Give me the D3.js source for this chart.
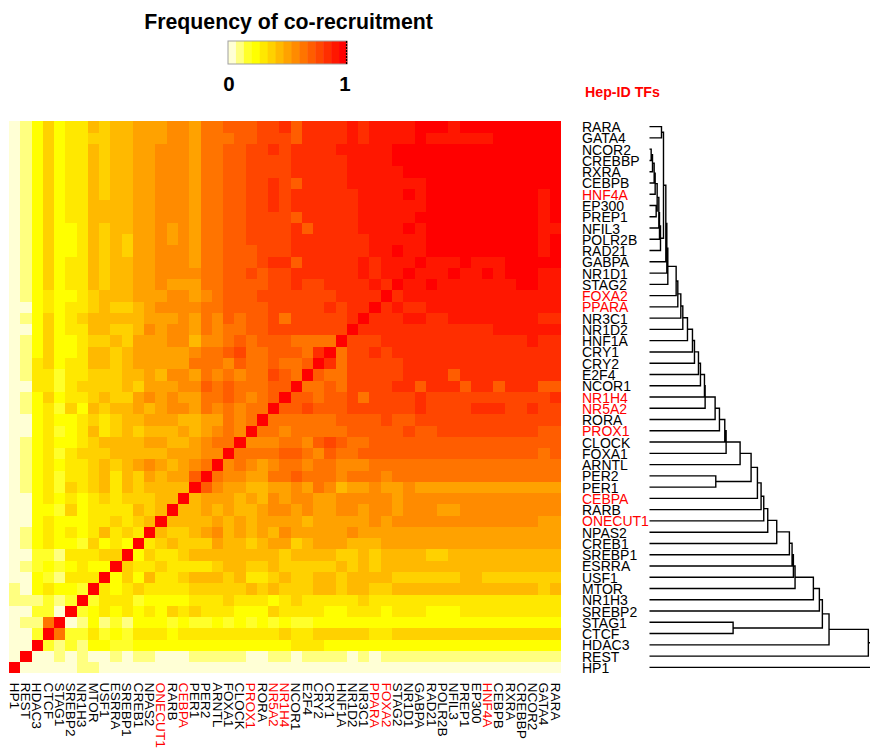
<!DOCTYPE html>
<html><head><meta charset="utf-8">
<script src="https://cdn.jsdelivr.net/npm/d3@7/dist/d3.min.js"></script>
<style>html,body{margin:0;padding:0;background:#fff}svg{display:block}text{font-family:"Liberation Sans",Arial,sans-serif}</style>
</head><body><svg id="c" width="870" height="749"></svg>
<script>
// Leaves, bottom row / left column first
const tfNames = ["HP1","REST","HDAC3","CTCF","STAG1","SREBP2","NR1H3","MTOR","USF1","ESRRA","SREBP1","CREB1","NPAS2","ONECUT1","RARB","CEBPA","PER1","PER2","ARNTL","FOXA1","CLOCK","PROX1","RORA","NR5A2","NR1H4","NCOR1","E2F4","CRY2","CRY1","HNF1A","NR1D2","NR3C1","PPARA","FOXA2","STAG2","NR1D1","GABPA","RAD21","POLR2B","NFIL3","PREP1","EP300","HNF4A","CEBPB","RXRA","CREBBP","NCOR2","GATA4","RARA"];
const hepIdTFs = ["ONECUT1","CEBPA","PROX1","NR5A2","NR1H4","PPARA","FOXA2","HNF4A"];
// 15-step palette, low to high
const heatColors = ["#ffffd5","#ffff80","#ffff2a","#ffff00","#ffe800","#ffd100","#ffb900","#ffa200","#ff8b00","#ff7400","#ff5d00","#ff4600","#ff2e00","#ff1700","#ff0000"];
// Symmetric matrix, frequency level per cell.
// One entry per row r; each run "L@k" = level L (base 15) up to column k, starting at column r+1.
const upperLevels = [
"0@5 1@7 0@48",
"0@3 1@4 0@5 1@6 0@8 1@9 0@10 1@12 0@15 1@20 0@22 1@24 0@25 1@29 0@30 1@31 0@32 1@48",
"2@3 1@4 2@5 1@6 3@8 2@10 3@24 4@27 3@48",
"9@4 2@6 4@7 2@8 3@9 2@10 4@13 3@14 4@23 5@24 4@26 5@31 4@33 5@48",
"0@5 1@6 3@7 1@8 2@9 1@10 3@13 2@14 3@15 2@17 3@18 2@19 3@20 2@21 3@22 2@23 3@24 2@26 3@48",
"2@6 3@7 4@8 3@9 4@10 3@11 4@12 3@13 5@14 4@15 5@16 4@19 3@22 5@23 4@27 3@29 4@32 3@33 4@36 3@39 4@48",
"2@7 4@10 2@11 3@15 4@18 5@19 4@22 3@23 4@24 5@25 4@30 5@31 4@48",
"4@8 3@9 4@10 5@11 4@15 5@20 6@21 5@22 6@23 5@26 6@28 5@29 6@31 5@33 6@46 5@47 6@48",
"3@9 5@10 3@11 6@12 4@14 5@15 6@18 5@19 6@20 4@22 5@23 6@24 5@26 6@28 5@29 6@33 5@39 6@41 5@48",
"5@10 4@12 5@13 4@17 5@18 6@20 5@22 6@23 5@28 6@29 5@30 6@31 5@32 6@48",
"3@11 5@12 4@14 5@15 6@23 5@24 6@28 5@30 6@31 5@32 6@36 5@38 6@48",
"4@12 5@13 6@14 5@17 7@18 6@20 5@21 6@22 7@24 5@25 6@26 7@29 6@32 7@48",
"6@13 5@15 6@16 7@17 8@18 6@19 7@20 6@21 7@22 6@23 8@24 7@29 8@30 7@48",
"6@17 7@18 6@19 7@20 6@21 7@25 6@26 7@31 8@32 7@33 8@46 7@48",
"6@16 7@17 6@18 7@19 6@21 7@22 8@24 7@25 8@26 7@28 8@30 7@31 8@33 7@34 8@37 7@39 8@48",
"6@16 7@19 6@20 7@21 6@22 8@23 7@24 8@26 7@28 8@33 7@34 8@48",
"a@17 8@18 7@20 6@22 7@24 8@25 7@26 9@27 8@28 6@29 7@31 8@32 7@34 8@35 7@48",
"9@18 8@20 7@22 9@24 a@25 9@28 8@29 9@32 8@33 9@48",
"8@19 9@20 8@21 7@22 8@23 9@25 8@26 9@28 8@31 9@48",
"9@23 a@25 9@26 8@27 a@28 9@30 a@46 9@47 a@48",
"8@23 9@25 8@26 a@27 b@28 a@29 9@31 a@48",
"9@23 8@24 9@29 a@34 b@35 a@37 b@46 a@48",
"9@28 a@32 b@33 a@35 b@48",
"a@25 b@26 a@29 b@35 c@36 b@40 c@43 b@45 c@46 b@48",
"a@26 9@27 a@29 b@30 9@31 b@35 c@36 b@47 c@48",
"9@27 a@28 9@29 b@33 c@35 a@36 c@39 a@40 c@42 a@43 c@46 a@48",
"a@27 9@29 b@34 c@38 a@39 c@48",
"c@28 9@29 b@34 c@48",
"9@29 b@31 c@32 b@33 c@48",
"b@32 c@45 d@46 c@48",
"c@42 d@48",
"c@34 d@36 c@38 d@46 c@48",
"c@33 d@34 c@36 d@48",
"c@34 d@48",
"d@36 e@37 d@44 e@46 d@48",
"d@38 e@39 d@41 e@42 d@43 e@46 d@48",
"d@39 e@40 d@43 e@48",
"e@46 d@47 e@48",
"e@46 d@47 e@48",
"e@46 d@48",
"e@46 d@47 e@48",
"e@46 d@47 e@48",
"e@46 d@47 e@48",
"e@48","e@48","e@48","e@48","e@48",""
];
// Dendrogram merges in order: child, child, height. "#n" refers to the n-th merge.
const merges = [
["NCOR2","CREBBP",5],["#0","RXRA",9],["#1","CEBPB",14],["#2","HNF4A",17],["EP300","PREP1",20],["#3","#4",23],["#5","NFIL3",28],["#6","POLR2B",30],["#7","RAD21",33],
["RARA","GATA4",36],["#9","#8",42],["#10","GABPA",49],["#11","NR1D1",52],["#12","STAG2",55],["#13","FOXA2",80],["#14","PPARA",85],["#15","NR3C1",94],["#16","NR1D2",100],
["#17","HNF1A",114],["#18","CRY1",129],["#19","CRY2",135],["#20","E2F4",147],["#21","NCOR1",153],["#22","NR1H4",165],["#23","NR5A2",167],["#24","RORA",197],["#25","PROX1",210],
["#26","CLOCK",226],["#27","FOXA1",230],["#28","ARNTL",272],["PER2","PER1",199],["#29","#30",305],["#31","CEBPA",324],["#32","RARB",335],["#33","ONECUT1",343],["#34","NPAS2",355],
["#35","CREB1",382],["#36","SREBP1",420],["#37","ESRRA",428],["#38","USF1",432],["#39","MTOR",437],["#40","NR1H3",492],["#41","SREBP2",510],["STAG1","CTCF",251],["#42","#43",519],
["#44","HDAC3",539],["#45","REST",657],["#46","HP1",720]
];
const titleText = "Frequency of co-recruitment";
const legendTicks = [0,1];

const svg = d3.select("#c");
const x = d3.scaleBand().domain(tfNames).range([9,561]);
const y = d3.scaleBand().domain(tfNames).range([673,121]);
const labelColor = d => hepIdTFs.includes(d) ? "#ff0000" : "#000";

// cells
const cells = [];
upperLevels.forEach((row,r)=>{
  cells.push({c:r,r:r,l:14});
  let col=r+1;
  row.split(" ").filter(Boolean).forEach(run=>{
    const [L,end]=run.split("@");
    for(;col<=+end;col++){
      const l=parseInt(L,15);
      cells.push({c:col,r:r,l});
      cells.push({c:r,r:col,l});
    }
  });
});
svg.append("g").selectAll("rect").data(cells).join("rect")
  .attr("x",d=>x(tfNames[d.c])).attr("y",d=>y(tfNames[d.r]))
  .attr("width",x.bandwidth()+0.4).attr("height",y.bandwidth()+0.4)
  .attr("fill",d=>heatColors[d.l]).attr("shape-rendering","crispEdges");

// axes
const ax = svg.append("g").attr("transform","translate(582,0.6)").call(d3.axisRight(y).tickSize(0).tickPadding(0));
ax.select(".domain").remove();
ax.selectAll("text").attr("font-size",14).attr("font-family",null).attr("fill",labelColor).attr("dy","0.35em");
const bx = svg.append("g").attr("transform","translate(0,682.5)").call(d3.axisBottom(x).tickSize(0).tickPadding(0));
bx.select(".domain").remove();
bx.selectAll("text").attr("font-size",13.7).attr("font-family",null).attr("fill",labelColor)
  .attr("transform","rotate(90)").attr("text-anchor","start").attr("x",0).attr("y",0).attr("dy","0.35em");

// dendrogram
const dx = d3.scaleLinear().domain([0,662]).range([649.5,870]);
const nodes = [];
const pos = k => k[0]==="#" ? nodes[+k.slice(1)] : {x:dx(0),y:y(k)+y.bandwidth()/2};
const link = d3.path();
merges.forEach(([a,b,h])=>{
  const A=pos(a),B=pos(b),hx=dx(h);
  link.moveTo(A.x,A.y);link.lineTo(hx,A.y);link.lineTo(hx,B.y);link.lineTo(B.x,B.y);
  nodes.push({x:hx,y:(A.y+B.y)/2});
});
svg.append("path").attr("d",link.toString()).attr("fill","none").attr("stroke","#000").attr("stroke-width",1.4);

// title / legend
svg.append("text").attr("x",288.5).attr("y",28.5).attr("text-anchor","middle").attr("font-size",21.3).attr("font-weight","bold").text(titleText);
const lx = d3.scaleLinear().domain([0,1]).range([228,347]);
const lg = svg.append("g");
lg.selectAll("rect").data(heatColors).join("rect")
  .attr("x",(d,i)=>lx(i/15)).attr("y",41).attr("width",(lx(1)-lx(0))/15+0.5).attr("height",23).attr("fill",d=>d);
lg.append("rect").attr("x",lx(0)).attr("y",41).attr("width",lx(1)-lx(0)).attr("height",23).attr("fill","none").attr("stroke","#a0a0a0").attr("stroke-width",1);
lg.append("line").attr("x1",lx(1)-0.5).attr("x2",lx(1)-0.5).attr("y1",41).attr("y2",64).attr("stroke","#000").attr("stroke-width",1.2).attr("stroke-dasharray","2 1");
lg.selectAll("text").data(legendTicks).join("text")
  .attr("x",d=>lx(d)+(d?-2:1)).attr("y",91).attr("text-anchor","middle").attr("font-size",20.5).attr("font-weight","bold").text(d=>d);
svg.append("text").attr("x",585).attr("y",97).attr("font-size",14.2).attr("font-weight","bold").attr("fill","#ff0000").text("Hep-ID TFs");
</script></body></html>
